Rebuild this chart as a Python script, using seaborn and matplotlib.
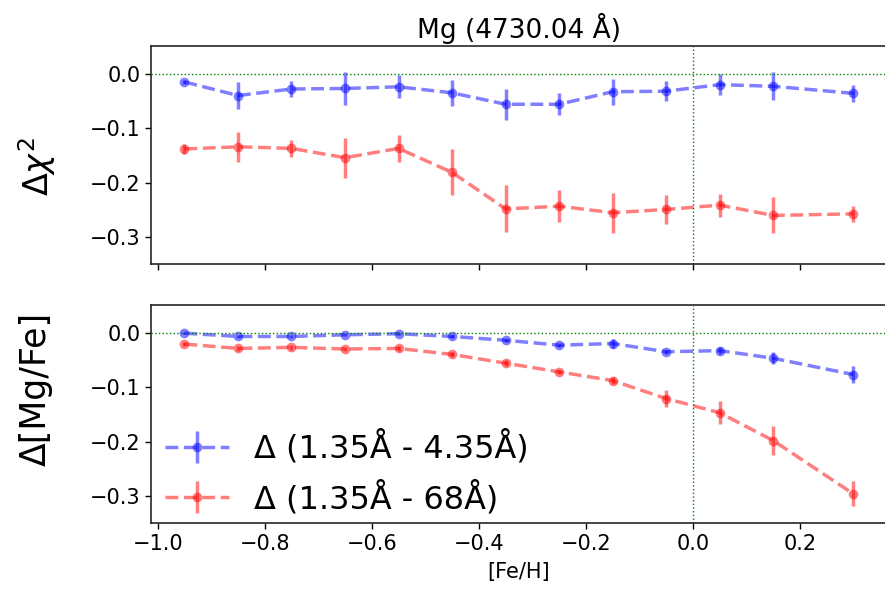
import matplotlib

matplotlib.use('Agg')

import matplotlib.pyplot as plt
import numpy as np
import seaborn as sns

# [Fe/H] bins
feh = [-0.95, -0.85, -0.75, -0.65, -0.55, -0.45, -0.35, -0.25, -0.15, -0.05, 0.05, 0.15, 0.30]

# delta chi^2
chi_blue = [-0.015, -0.040, -0.028, -0.027, -0.024, -0.035, -0.056, -0.056, -0.033, -0.032, -0.020, -0.023, -0.036]
chi_blue_err = [0.003, 0.024, 0.014, 0.031, 0.021, 0.024, 0.028, 0.020, 0.024, 0.018, 0.019, 0.026, 0.016]
chi_red = [-0.138, -0.134, -0.137, -0.154, -0.137, -0.181, -0.248, -0.243, -0.255, -0.249, -0.241, -0.260, -0.257]
chi_red_err = [0.009, 0.028, 0.016, 0.037, 0.025, 0.042, 0.043, 0.029, 0.037, 0.026, 0.021, 0.033, 0.015]

# delta [Mg/Fe]
mg_blue = [-0.001, -0.007, -0.007, -0.004, -0.002, -0.007, -0.014, -0.023, -0.020, -0.035, -0.033, -0.047, -0.077]
mg_blue_err = [0.002, 0.003, 0.003, 0.003, 0.002, 0.003, 0.003, 0.003, 0.008, 0.004, 0.006, 0.011, 0.016]
mg_red = [-0.021, -0.029, -0.027, -0.030, -0.029, -0.040, -0.056, -0.072, -0.088, -0.121, -0.147, -0.198, -0.296]
mg_red_err = [0.004, 0.004, 0.004, 0.004, 0.004, 0.004, 0.006, 0.004, 0.006, 0.016, 0.021, 0.027, 0.023]

labels = [u'\u0394 (1.35\u00c5 - 4.35\u00c5)', u'\u0394 (1.35\u00c5 - 68\u00c5)']
colors = ['b', 'r']

sns.set_style('ticks', {'text.color': 'black', 'axes.labelcolor': 'black',
                        'xtick.color': 'black', 'ytick.color': 'black',
                        'axes.edgecolor': '0.15'})
plt.rcParams['font.family'] = ['DejaVu Sans']


def draw_series(ax, x, y, yerr, color):
    sns.lineplot(x=x, y=y, ax=ax, color=color, alpha=0.5, lw=2.5, ls='--',
                 marker='o', ms=7, mec=color, mew=0)
    line = ax.lines[-1]
    err = ax.errorbar(x, y, yerr=yerr, fmt='none', ecolor=color, alpha=0.5,
                      elinewidth=2.5, capsize=0)
    return line, err


def style_axis(ax):
    ax.axhline(0, color='g', ls=':', lw=1)
    ax.axvline(0, color='g', ls=':', lw=1)
    ax.set_xlim(-1.0125, 0.3625)
    ax.set_ylim(-0.35, 0.05)
    ax.set_yticks([0.0, -0.1, -0.2, -0.3])
    ax.set_xticks([-1.0, -0.8, -0.6, -0.4, -0.2, 0.0, 0.2])
    ax.tick_params(labelsize=15, direction='out', length=4, width=1,
                   colors='black', labelcolor='black')
    for sp in ax.spines.values():
        sp.set_color('0.15')
        sp.set_linewidth(1.2)


fig = plt.figure(figsize=(8.85, 5.9), dpi=100)
ax1 = fig.add_axes([0.1706, 0.5517, 0.8316, 0.3695])
ax2 = fig.add_axes([0.1706, 0.1129, 0.8316, 0.3695])

draw_series(ax1, feh, chi_blue, chi_blue_err, colors[0])
draw_series(ax1, feh, chi_red, chi_red_err, colors[1])
style_axis(ax1)
ax1.set_xticklabels([])
ax1.set_ylabel(r'$\Delta\chi^2$', fontsize=24)
ax1.yaxis.set_label_coords(-0.126, 0.45)
ax1.set_title(u'Mg (4730.04 \u00c5)', fontsize=19, pad=6)

h_blue = draw_series(ax2, feh, mg_blue, mg_blue_err, colors[0])
h_red = draw_series(ax2, feh, mg_red, mg_red_err, colors[1])
style_axis(ax2)
ax2.set_ylabel(u'\u0394[Mg/Fe]', fontsize=25)
ax2.yaxis.set_label_coords(-0.133, 0.615)
ax2.set_xlabel('[Fe/H]', fontsize=15, labelpad=6)

ax2.legend([h_blue, h_red], labels, loc='lower left', bbox_to_anchor=(0.008, 0.0),
           frameon=False, fontsize=23, handlelength=2.0, borderaxespad=0.15,
           borderpad=0.1, labelspacing=0.5)

fig.savefig('out.png', dpi=100)
